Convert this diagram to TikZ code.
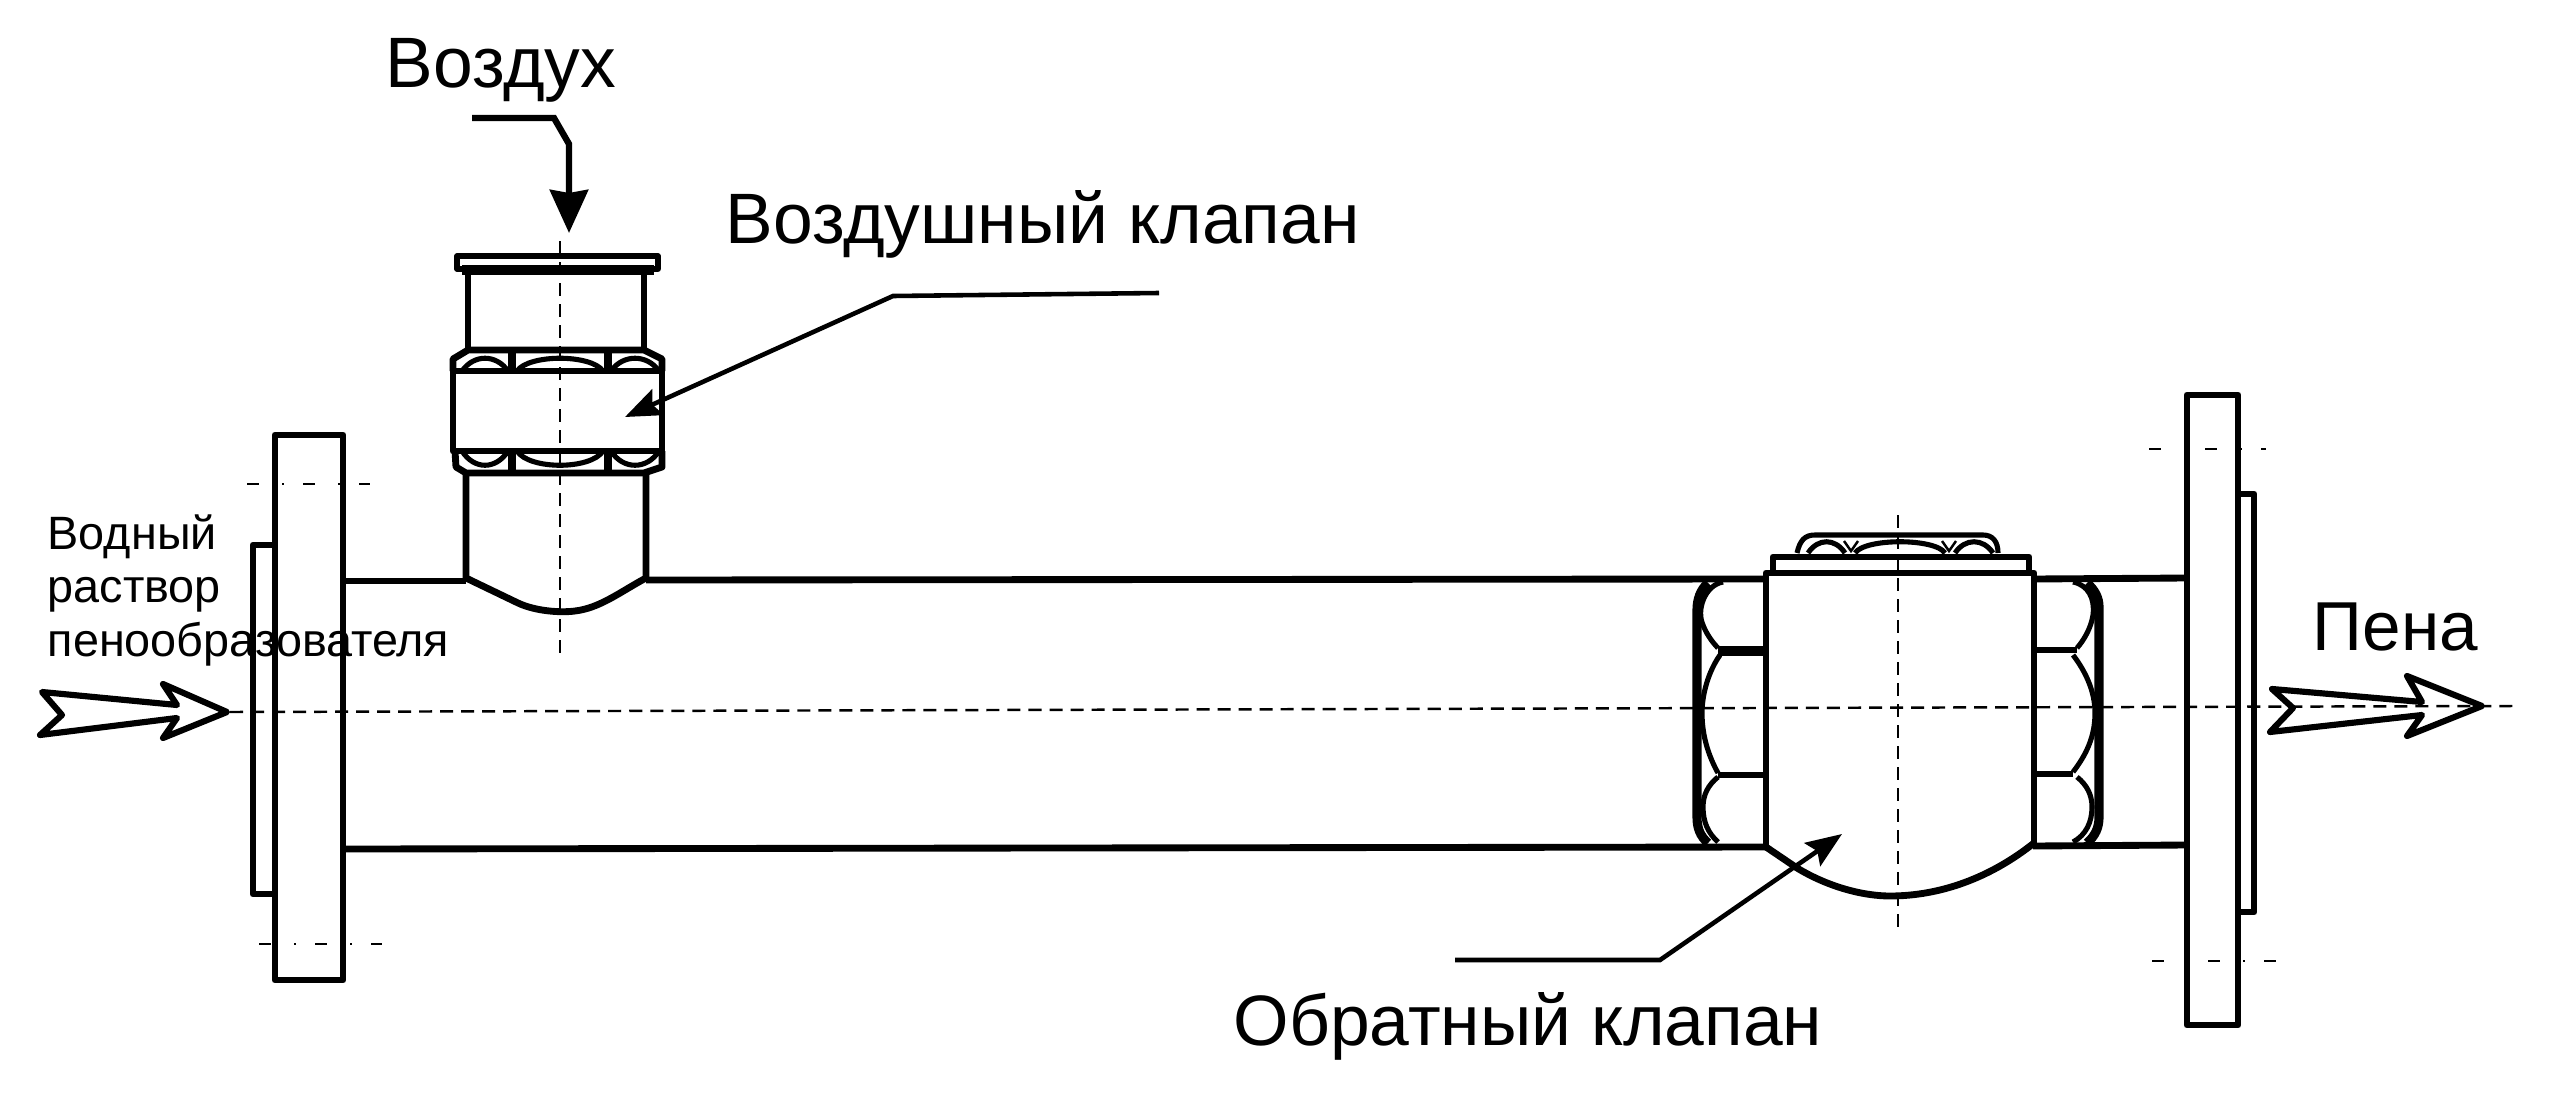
\documentclass[tikz,border=0pt]{standalone}
\usepackage{fontspec}
\setmainfont{Liberation Sans}
\usetikzlibrary{arrows.meta}
\tikzset{
	pipeline/.style={line width=1.95pt,line join=round},
	thinline/.style={line width=1.45pt,line join=round},
	axisline/.style={line width=0.7pt,dash pattern=on 0.13cm off 0.08cm},
	flangeaxis/.style={line width=0.7pt,dash pattern=on 0.12cm off 0.23cm on 0.02cm off 0.19cm},
	flowarrow/.style={line width=1.75pt,line join=round},
	leaderline/.style={line width=1.3pt,-{Stealth[length=0.36cm,width=0.28cm,inset=0.06cm]}},
	biglabel/.style={anchor=base west,inner sep=0pt,font=\fontsize{20.3}{24}\selectfont},
}
\begin{document}
\begin{tikzpicture}[x=0.01cm,y=-0.01cm]
	\useasboundingbox (0,0) rectangle (2576,1094);
	
	% flanges
	\draw[pipeline] (275,435) rectangle (343,980);
	\draw[pipeline] (275,545) -- (253,545) -- (253,894) -- (275,894);
	\draw[pipeline] (2187,395) rectangle (2238,1025);
	\draw[pipeline] (2238,494) -- (2254,494) -- (2254,912) -- (2238,912);
	
	% pipe
	\draw[pipeline] (343,581) -- (466,581);
	\draw[pipeline] (646,580) -- (1766,579);
	\draw[pipeline] (2034,579) -- (2187,578);
	\draw[pipeline] (343,849) -- (1766,847);
	\draw[pipeline] (2033,846) -- (2187,845);
	
	% axes
	\draw[axisline] (230,712) -- (2515,706);
	\draw[axisline] (560,241) -- (560,661);
	\draw[axisline] (1898,515) -- (1898,933);
	\draw[flangeaxis] (247,484) -- (370,484);
	\draw[flangeaxis] (259,944) -- (382,944);
	\draw[flangeaxis] (2149,449) -- (2266,449);
	\draw[flangeaxis] (2152,961) -- (2276,961);
	
	% air valve
	\draw[thinline] (457,256) rectangle (658,269);
	\draw[line width=3pt] (462,270) -- (654,270);
	\draw[pipeline] (468,272) -- (468,351);
	\draw[pipeline] (644,272) -- (644,351);
	\draw[pipeline] (453,371) rectangle (662,451);
	\draw[pipeline] (453,371) -- (453,359) -- (468,350) -- (644,350) -- (662,359) -- (662,371);
	\draw[pipeline] (455,451) -- (456,467) -- (466,473) -- (644,473) -- (662,467) -- (662,451);
	\foreach \xa/\xb in {462/508,517/603,611/659}
	{
		\draw[thinline] (\xa,371) .. controls (\xa+12,354) and (\xb-12,354) .. (\xb,371);
		\draw[thinline] (\xa,451) .. controls (\xa+12,470) and (\xb-12,470) .. (\xb,451);
	}
	\foreach \x in {512,608}
	{
		\draw[line width=2.4pt] (\x,352) -- (\x,371);
		\draw[line width=2.4pt] (\x,451) -- (\x,471);
	}
	\draw[pipeline] (466,473) -- (466,578) -- (518,603) .. controls (535,611) and (560,613) .. (575,611) .. controls (600,608) and (620,592) .. (646,578) -- (646,473);
	
	% check valve
	\draw[pipeline] (1766,847) -- (1766,573) -- (2034,573) -- (2034,843);
	\draw[pipeline] (1766,847) -- (1797,868) .. controls (1830,888) and (1865,896) .. (1890,896) .. controls (1940,896) and (1990,878) .. (2034,843);
	\draw[pipeline] (1773,573) -- (1773,557) -- (2029,557) -- (2029,573);
	\draw[thinline] (1797,553) .. controls (1800,540) and (1805,535) .. (1815,535) -- (1983,535) .. controls (1993,535) and (1998,542) .. (1998,553);
	\foreach \xa/\xb in {1808/1845,1855/1945,1955/1993}
	\draw[thinline] (\xa,553) .. controls (\xa+10,538) and (\xb-10,538) .. (\xb,553);
	\foreach \x in {1851,1949}
	\draw[line width=0.7pt] (\x-7,541) -- (\x,551) -- (\x+7,541);
	
	% nut of the check valve
	\draw[line width=2.6pt] (1708,583) .. controls (1700,590) and (1697,600) .. (1697,610) -- (1697,817) .. controls (1697,828) and (1700,836) .. (1708,843);
	\draw[line width=2.6pt] (2087,583) .. controls (2095,590) and (2099,598) .. (2099,607) -- (2099,817) .. controls (2099,828) and (2095,836) .. (2087,843);
	\draw[thinline] (1723,582) .. controls (1705,585) and (1696,610) .. (1703,625) .. controls (1706,633) and (1712,642) .. (1718,648);
	\draw[thinline] (1720,655) .. controls (1708,672) and (1702,695) .. (1702,713) .. controls (1702,735) and (1708,755) .. (1718,773);
	\draw[thinline] (1718,777) .. controls (1708,785) and (1703,795) .. (1703,807) .. controls (1703,822) and (1708,833) .. (1718,842);
	\draw[thinline] (2073,582) .. controls (2088,585) and (2095,598) .. (2093,615) .. controls (2091,628) and (2084,640) .. (2077,648);
	\draw[thinline] (2073,655) .. controls (2086,672) and (2095,692) .. (2095,713) .. controls (2095,737) and (2086,755) .. (2073,772);
	\draw[thinline] (2077,777) .. controls (2087,785) and (2092,795) .. (2092,807) .. controls (2092,822) and (2086,835) .. (2073,842);
	\draw[line width=2.6pt] (1718,651) -- (1766,651);
	\draw[thinline] (1718,775) -- (1766,775);
	\draw[thinline] (2034,650) -- (2077,650);
	\draw[thinline] (2034,774) -- (2073,774);
	
	% flow arrows
	\draw[flowarrow] (42,692) -- (177,705) -- (163,684) -- (227,712) -- (163,738) -- (177,718) -- (40,735) -- (62,715) -- cycle;
	\draw[flowarrow] (2272,689) -- (2422,702) -- (2407,676) -- (2482,706) -- (2407,736) -- (2422,715) -- (2270,732) -- (2293,708) -- cycle;
	
	% labels
	\node[biglabel] (airtext) at (385,88) {Воздух};
	\node[biglabel] (airvalvetext) at (725,243) {Воздушный клапан};
	\node[biglabel] (checkvalvetext) at (1233,1045) {Обратный клапан};
	\node[biglabel,font=\fontsize{19.7}{23}\selectfont] (foamtext) at (2312,650) {Пена};
	\node[anchor=base west,inner sep=0pt,align=left,font=\fontsize{13.3}{15.1}\selectfont] (solutiontext) at (47,656) {Водный\\раствор\\пенообразователя};
	
	% leaders
	\coordinate (airstart) at (472,118);
	\coordinate (airbendA) at (554,118);
	\coordinate (airbendB) at (569,144);
	\coordinate (airend) at (569,233);
	\draw[line width=1.8pt,-{Stealth[length=0.43cm,width=0.38cm,inset=0.03cm]}] (airstart) -- (airbendA) -- (airbendB) -- (airend);
	\coordinate (airvalvestart) at (1159,293);
	\coordinate (airvalvebend) at (893,296);
	\coordinate (airvalveend) at (625,417);
	\draw[leaderline] (airvalvestart) -- (airvalvebend) -- (airvalveend);
	\coordinate (checkstart) at (1455,960);
	\coordinate (checkbend) at (1660,960);
	\coordinate (checkend) at (1842,834);
	\draw[leaderline] (checkstart) -- (checkbend) -- (checkend);
\end{tikzpicture}
\end{document}
